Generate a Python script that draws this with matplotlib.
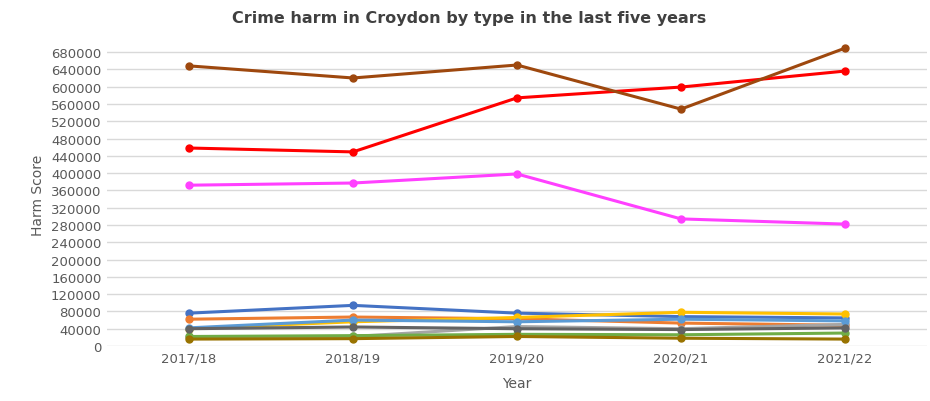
import matplotlib.pyplot as plt
import numpy as np

# Harm score per crime type
years = ['2017/18', '2018/19', '2019/20', '2020/21', '2021/22']

blue = [76000, 94000, 76000, 68000, 65000]
orange = [62000, 67000, 63000, 53000, 48000]
grey = [20000, 22000, 45000, 40000, 50000]
gold = [40000, 56000, 66000, 78000, 74000]
light_blue = [42000, 60000, 56000, 62000, 58000]
green = [22000, 24000, 27000, 26000, 30000]
dark_grey = [40000, 44000, 40000, 38000, 42000]
dark_gold = [16000, 17000, 22000, 18000, 16000]
magenta = [372000, 377000, 398000, 294000, 282000]
red = [458000, 449000, 574000, 599000, 636000]
brown = [648000, 620000, 650000, 548000, 689000]

series = [
    (blue, '#4472C4'),
    (orange, '#ED7D31'),
    (grey, '#A5A5A5'),
    (gold, '#FFC000'),
    (light_blue, '#5B9BD5'),
    (green, '#70AD47'),
    (dark_grey, '#636363'),
    (dark_gold, '#997300'),
    (magenta, '#FF40FF'),
    (red, '#FF0000'),
    (brown, '#9E480E'),
]

fig = plt.figure(figsize=(9.3, 4.02), dpi=100)
ax = fig.add_axes([107 / 930, 55 / 402, 820 / 930, 302.6 / 402])

x = np.arange(len(years))
for vals, col in series:
    ax.plot(x, vals, color=col, linewidth=2.2, marker='o', markersize=5,
            zorder=3, clip_on=False)

ax.set_xlim(-0.5, 4.5)
ax.set_ylim(0, 700000)
ax.set_yticks(np.arange(0, 680001, 40000))
ax.set_xticks(x)
ax.set_xticklabels(years)
ax.grid(axis='y', color='#D9D9D9', linewidth=1)
ax.set_axisbelow(True)
for s in ax.spines.values():
    s.set_visible(False)
ax.tick_params(length=0, labelsize=9.5, labelcolor='#595959', pad=4)

ax.set_xlabel('Year', fontsize=10, color='#595959', labelpad=8)
ax.set_ylabel('Harm Score', fontsize=10, color='#595959', labelpad=4)
fig.text(0.504, 0.955, 'Crime harm in Croydon by type in the last five years',
         ha='center', va='center', fontsize=11.5, fontweight='bold', color='#404040')

fig.savefig('out.png', dpi=100)
